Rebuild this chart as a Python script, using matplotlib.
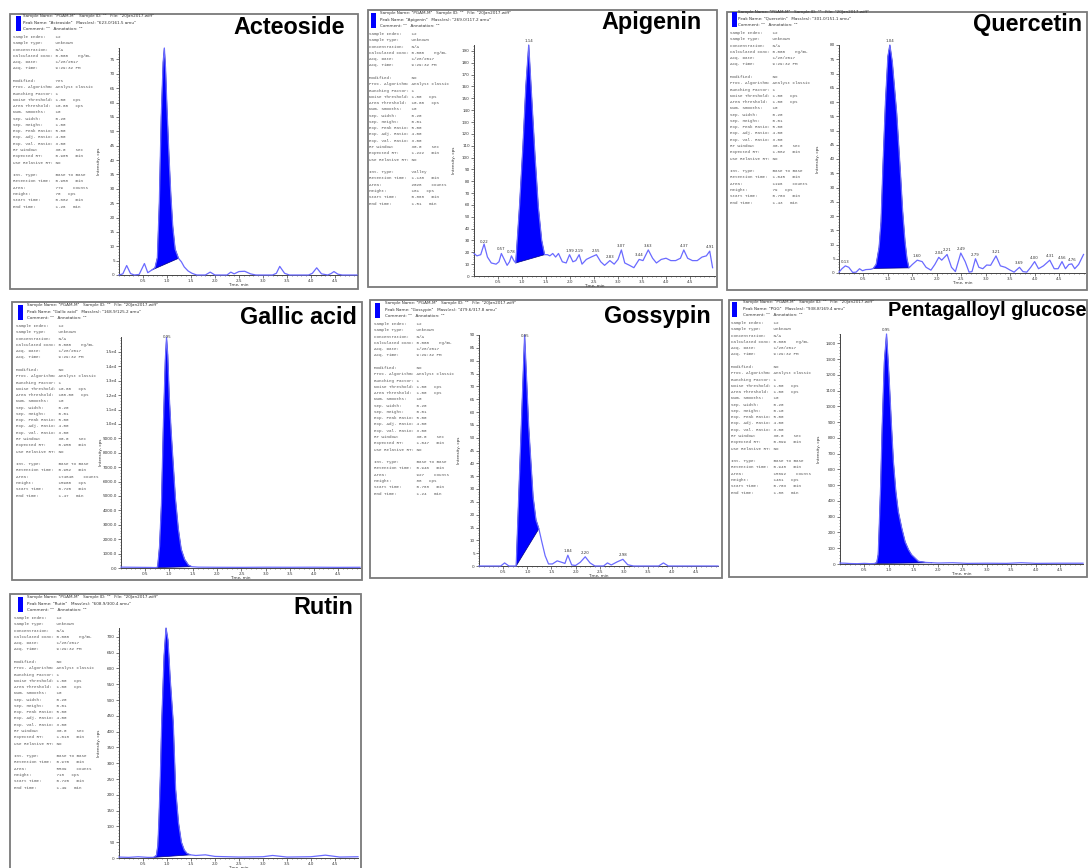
"""
Seven MRM chromatograms (Analyst-style printouts) for the PGAM-M extract.
"""
import matplotlib
matplotlib.use('Agg')
import matplotlib.pyplot as plt
import numpy as np
from matplotlib.patches import Rectangle
from matplotlib.ticker import MultipleLocator, FixedLocator

W, H = 1090, 868
fig = plt.figure(figsize=(W / 100, H / 100), dpi=100)

LINE = '#6a6aff'
FILL = '#0000ff'
GREY = '#555555'
MONO = 'Liberation Mono'

# ---- traces: [time (min), intensity (cps)] ----
acteoside = [[0.00, 0.0], [0.08, 0.4], [0.16, 3.3], [0.24, 0.5], [0.32, 0.0], [0.42, 0.2],
             [0.53, 4.0], [0.60, 0.8], [0.68, 1.7], [0.75, 2.5], [0.80, 6.0], [0.84, 25],
             [0.88, 55], [0.92, 74], [0.945, 79], [0.97, 72], [1.00, 58], [1.04, 42],
             [1.08, 28], [1.12, 17], [1.17, 9], [1.24, 5.8], [1.30, 4.6], [1.36, 2.8],
             [1.44, 1.4], [1.52, 0.6], [1.62, 0.0], [1.80, 0.0], [1.90, 1.0], [2.00, 0.0],
             [2.25, 0.0], [2.33, 1.0], [2.40, 0.4], [2.50, 1.2], [2.62, 1.3], [2.74, 0.4],
             [2.85, 0.0], [3.20, 0.0], [3.28, 0.6], [3.35, 3.0], [3.45, 0.6], [3.55, 0.0],
             [3.95, 0.0], [4.03, 0.6], [4.12, 2.5], [4.22, 0.4], [4.35, 0.0], [4.42, 0.5],
             [4.48, 1.2], [4.56, 0.3], [4.65, 0.0], [4.96, 0.0]]
apigenin = [[0.00, 19], [0.06, 17], [0.14, 18], [0.21, 27], [0.28, 16], [0.36, 11], [0.46, 10],
            [0.52, 12], [0.57, 19], [0.63, 14], [0.69, 9], [0.74, 12], [0.78, 17], [0.83, 13],
            [0.87, 11], [0.95, 60], [1.02, 110], [1.08, 160], [1.14, 195], [1.20, 152],
            [1.27, 102], [1.34, 58], [1.41, 30], [1.47, 18], [1.53, 18], [1.58, 17], [1.64, 19],
            [1.70, 16], [1.76, 19], [1.84, 12], [1.92, 11], [1.99, 18], [2.06, 12], [2.12, 13],
            [2.19, 18], [2.25, 10], [2.34, 14], [2.44, 16], [2.55, 18], [2.64, 12], [2.72, 9],
            [2.83, 13], [2.92, 10], [3.00, 14], [3.07, 22], [3.14, 11], [3.24, 9], [3.33, 7],
            [3.44, 14], [3.52, 13], [3.63, 22], [3.72, 15], [3.80, 11], [3.90, 14], [4.00, 15],
            [4.10, 13], [4.20, 13], [4.30, 15], [4.37, 22], [4.45, 15], [4.55, 13], [4.65, 13],
            [4.75, 16], [4.84, 17], [4.91, 21], [4.97, 7]]
quercetin = [[0.00, 0.3], [0.06, 1.5], [0.13, 2.5], [0.20, 2.0], [0.28, 0.2], [0.35, 0.3],
             [0.42, 1.5], [0.48, 0.8], [0.55, 1.2], [0.65, 1.3], [0.70, 1.6], [0.76, 3],
             [0.82, 9], [0.86, 18], [0.90, 38], [0.95, 60], [1.00, 76], [1.04, 80], [1.09, 74],
             [1.14, 64], [1.18, 56], [1.22, 45], [1.26, 34], [1.30, 22], [1.35, 11], [1.39, 5],
             [1.43, 1.8], [1.50, 3], [1.60, 4.5],
             [1.70, 4], [1.78, 2], [1.88, 1], [1.96, 3], [2.04, 5.5], [2.10, 4.5], [2.21, 6.5],
             [2.30, 2], [2.38, 0.5], [2.49, 7], [2.58, 4], [2.66, 0.3], [2.72, 0.5], [2.79, 5],
             [2.86, 2], [2.94, 1.5], [3.02, 2.8], [3.10, 2.7], [3.21, 6], [3.30, 2.5], [3.40, 2],
             [3.50, 1], [3.58, 0.3], [3.69, 2], [3.76, 0.5], [3.84, 0.3], [3.92, 2], [4.00, 4],
             [4.08, 1.5], [4.18, 2.5], [4.31, 4.5], [4.40, 1.5], [4.48, 1.5], [4.56, 4],
             [4.63, 1.5], [4.70, 3], [4.76, 3.2], [4.82, 1.5], [4.90, 3], [5.00, 6.5]]
gallic = [[0.00, 60], [0.30, 50], [0.60, 40], [0.72, 30], [0.76, 60], [0.80, 1500], [0.84, 4500],
          [0.88, 10000], [0.92, 14500], [0.945, 16000], [0.97, 14800], [1.00, 12000],
          [1.04, 9500], [1.08, 7400], [1.13, 4800], [1.19, 2700], [1.25, 1300], [1.32, 600],
          [1.40, 200], [1.47, 90], [1.60, 60], [2.0, 50], [2.5, 45], [3.0, 55], [3.5, 50],
          [4.0, 55], [4.5, 45], [4.96, 50]]
gossypin = [[0.00, 0], [0.45, 0], [0.53, 1.2], [0.62, 0], [0.77, 0], [0.945, 90], [1.03, 54],
            [1.12, 27], [1.18, 18], [1.24, 14.5], [1.30, 9.5], [1.37, 4], [1.44, 0.8],
            [1.52, 0.8], [1.62, 2], [1.72, 1.4], [1.78, 1], [1.84, 4.2], [1.92, 0.4], [2.00, 0.2],
            [2.10, 1.5], [2.20, 3.6], [2.30, 1.2], [2.40, 0], [2.58, 0], [2.66, 1.2], [2.74, 0.4],
            [2.86, 1.6], [2.98, 2.6], [3.08, 0.5], [3.20, 0], [3.72, 0], [3.82, 1.2], [3.92, 0],
            [4.95, 0]]
pgg = [[0.00, 6], [0.10, 5], [0.20, 3], [0.35, 2], [0.50, 4], [0.62, 2], [0.70, 3], [0.75, 8],
       [0.78, 60], [0.80, 228], [0.83, 500], [0.86, 860], [0.905, 1283], [0.95, 1460],
       [0.99, 1250], [1.02, 1072], [1.05, 880], [1.09, 650], [1.14, 460], [1.19, 333],
       [1.26, 228], [1.33, 140], [1.40, 90], [1.46, 59], [1.60, 17], [1.75, 10], [1.88, 8],
       [2.0, 6], [2.3, 8], [2.6, 4], [3.0, 5], [3.4, 4], [3.7, 8], [4.0, 4], [4.5, 5], [4.96, 5]]
rutin = [[0.00, 3], [0.20, 2], [0.40, 4], [0.60, 2], [0.72, 2], [0.78, 8], [0.81, 40],
         [0.83, 110], [0.86, 250], [0.89, 430], [0.94, 640], [0.98, 728], [1.02, 690],
         [1.07, 560], [1.13, 429], [1.18, 217], [1.24, 111], [1.30, 50], [1.36, 25], [1.42, 14],
         [1.49, 10], [1.6, 8], [1.8, 10], [2.0, 5], [2.5, 3], [3.0, 4], [3.2, 8], [3.5, 3],
         [4.0, 4], [4.3, 9], [4.6, 3], [4.98, 4]]

# integrated peak window (start, end) and labelled peak times
acteoside_win, acteoside_labels = (0.68, 1.24), []
apigenin_win, apigenin_labels = (0.87, 1.47), [0.22, 0.57, 0.78, 1.14, 1.99, 2.19, 2.55, 2.83,
                                              3.07, 3.44, 3.63, 4.37, 4.91]
quercetin_win, quercetin_labels = (0.70, 1.43), [0.13, 1.04, 1.60, 2.04, 2.21, 2.49, 2.79, 3.21,
                                                3.69, 4.00, 4.31, 4.56, 4.76]
gallic_win, gallic_labels = (0.72, 1.47), [0.95]
gossypin_win, gossypin_labels = (0.77, 1.24), [0.95, 1.84, 2.20, 2.98]
pgg_win, pgg_labels = (0.70, 1.88), [0.95]
rutin_win, rutin_labels = (0.72, 1.49), []

titles = ['Acteoside', 'Apigenin', 'Quercetin', 'Gallic acid', 'Gossypin',
          'Pentagalloyl glucose', 'Rutin']
peak_names = ['Acteoside', 'Apigenin', 'Quercetin', 'Gallic acid', 'Gossypin', 'PGG', 'Rutin']
masses = ['623.0/161.5', '269.0/117.2', '301.0/151.1', '168.9/125.2', '479.6/317.8',
          '938.8/169.4', '608.9/300.4']

# ---- printed peak table values ----
info_labels = ['Sample Index:', 'Sample Type:', 'Concentration:', 'Calculated Conc:', 'Acq. Date:',
               'Acq. Time:', '', 'Modified:', 'Proc. Algorithm:', 'Bunching Factor:',
               'Noise Threshold:', 'Area Threshold:', 'Num. Smooths:', 'Sep. Width:',
               'Sep. Height:', 'Exp. Peak Ratio:', 'Exp. Adj. Ratio:', 'Exp. Val. Ratio:',
               'RT Window:', 'Expected RT:', 'Use Relative RT:', '', 'Int. Type:',
               'Retention Time:', 'Area:', 'Height:', 'Start Time:', 'End Time:']
modified = ['Yes', 'No', 'No', 'No', 'No', 'No', 'No']
noise_thr = ['1.00', '1.00', '1.00', '10.00', '1.00', '1.00', '1.00']
area_thr = ['10.00', '10.00', '1.00', '100.00', '1.00', '1.00', '1.00']
sep_height = ['1.00', '0.01', '0.01', '0.01', '0.01', '0.10', '0.01']
expected_rt = ['0.965', '1.222', '1.082', '0.950', '1.047', '0.899', '1.018']
int_type = ['Base To Base', 'Valley', 'Base To Base', 'Base To Base', 'Base To Base',
            'Base To Base', 'Base To Base']
ret_time = ['0.958', '1.138', '1.045', '0.952', '0.946', '0.948', '0.970']
areas = ['779', '2028', '1196', '174848', '927', '15692', '5539']
heights = ['70', '181', '79', '15900', '88', '1461', '718']
start_time = ['0.682', '0.868', '0.703', '0.720', '0.768', '0.703', '0.720']
end_time = ['1.26', '1.51', '1.43', '1.47', '1.24', '1.88', '1.49']

traces = [acteoside, apigenin, quercetin, gallic, gossypin, pgg, rutin]
windows = [acteoside_win, apigenin_win, quercetin_win, gallic_win, gossypin_win, pgg_win, rutin_win]
peak_labels = [acteoside_labels, apigenin_labels, quercetin_labels, gallic_labels,
               gossypin_labels, pgg_labels, rutin_labels]

# ---- page layout in pixels ----
# frame (x0, y0, x1, y1); axes (x at t=0, x at xmax, y at 0, y at ymax)
frames = [(10, 14, 358, 289), (368, 10, 717, 287), (727, 12, 1087, 290), (12, 302, 362, 580),
          (370, 300, 722, 578), (729, 300, 1087, 577), (10, 594, 361, 872)]
axes_px = [(119, 357, 275, 48), (474, 715, 276, 45), (839, 1085, 273, 45), (121, 360, 568, 337),
           (479, 718, 566, 335), (840, 1083, 564, 334), (119, 358, 858, 628)]
xmax = [4.96, 5.02, 5.03, 4.96, 4.95, 4.96, 4.98]
ymax = [79, 195, 80, 16040, 90, 1460, 728]
ystep = [5, 10, 5, 1000, 5, 100, 50]
ytop_tick = [75, 190, 80, 15000, 90, 1400, 700]
title_pos = [(345, 27, 16.8), (702, 23, 16.8), (1082, 25, 16.8), (357, 318, 16.8),
             (711, 316, 16.8), (1087, 311, 14.4), (353, 607, 16.8)]
text_pos = [(13, 37, 15, 23), (369, 34, 370, 380), (730, 33, 731, 738), (16, 326, 17, 27),
            (374, 324, 374, 385), (731, 323, 731, 743), (14, 618, 17, 27)]


def fx(x):
    return x / W


def fy(y):
    return 1 - y / H


def gallic_fmt(v):
    if v < 9500:
        return '%.1f' % v
    return '%.1fe4' % (v / 1e4)


for k in range(7):
    x0, y0, x1, y1 = frames[k]
    fig.add_artist(Rectangle((fx(x0), fy(y1)), (x1 - x0) / W, (y1 - y0) / H,
                             transform=fig.transFigure, facecolor='white',
                             edgecolor='#7a7a7a', lw=1.3, zorder=0))

    # header block
    mx, my, bx, hx = text_pos[k]
    fig.add_artist(Rectangle((fx(bx + 1), fy(my - 6)), 5 / W, 15 / H,
                             transform=fig.transFigure, facecolor=FILL, edgecolor='none'))
    heads = ['Sample Name: "PGAM-M"   Sample ID: ""   File: "20Jan2017.wiff"',
             'Peak Name: "%s"   Mass(es): "%s amu"' % (peak_names[k], masses[k]),
             'Comment: ""   Annotation: ""']
    for j, s in enumerate(heads):
        fig.text(fx(hx), fy(my - 21 + 6.6 * j), s, fontsize=3.0, color='#333333',
                 va='center', ha='left')

    vals = ['12', 'Unknown', 'N/A', '0.000    ng/mL', '1/28/2017', '9:29:32 PM', '',
            modified[k], 'Analyst Classic', '1', noise_thr[k] + '   cps',
            area_thr[k] + '   cps', '10', '0.20', sep_height[k], '5.00', '4.00', '3.00',
            '30.0    sec', expected_rt[k] + '   min', 'No', '', int_type[k],
            ret_time[k] + '   min', areas[k] + '    counts', heights[k] + '   cps',
            start_time[k] + '   min', end_time[k] + '   min']
    for j, (lab, v) in enumerate(zip(info_labels, vals)):
        if lab:
            fig.text(fx(mx), fy(my + 6.28 * j), lab.ljust(17) + v, fontsize=3.1,
                     family=MONO, color=GREY, va='center', ha='left')

    tx, ty, ts = title_pos[k]
    fig.text(fx(tx), fy(ty), titles[k], fontsize=ts, fontweight='bold',
             family='Liberation Sans', ha='right', va='center', color='black')

    # chromatogram
    a0, a1, b0, b1 = axes_px[k]
    ax = fig.add_axes([fx(a0), fy(b0), (a1 - a0) / W, (b0 - b1) / H])
    ax.patch.set_alpha(0)
    data = np.array(traces[k], dtype=float)
    t, inten = data[:, 0], data[:, 1]
    s0, s1 = windows[k]
    sel = (t >= s0 - 1e-9) & (t <= s1 + 1e-9)
    ax.fill(t[sel], inten[sel], color=FILL, lw=0.5, ec='#000080', zorder=2)
    ax.plot(t, inten, color=LINE, lw=0.9, zorder=3, clip_on=False)
    for lt in peak_labels[k]:
        li = np.interp(lt, t, inten)
        ax.annotate('%.2f' % lt, (lt, li), xytext=(0, 1.5), textcoords='offset points',
                    ha='center', va='bottom', fontsize=2.8, color='#333333',
                    annotation_clip=False)

    ax.set_xlim(0, xmax[k])
    ax.set_ylim(0, ymax[k])
    for sp in ('top', 'right'):
        ax.spines[sp].set_visible(False)
    for sp in ('left', 'bottom'):
        ax.spines[sp].set_color('#444444')
        ax.spines[sp].set_linewidth(0.7)
    ax.xaxis.set_major_locator(FixedLocator(np.arange(0.5, 4.51, 0.5)))
    ax.xaxis.set_minor_locator(MultipleLocator(0.1))
    ax.yaxis.set_major_locator(FixedLocator(np.arange(0, ytop_tick[k] + 1, ystep[k])))
    ax.yaxis.set_minor_locator(MultipleLocator(ystep[k] / 5))
    if k == 3:
        ax.yaxis.set_major_formatter(plt.FuncFormatter(lambda v, p: gallic_fmt(v)))
    else:
        ax.yaxis.set_major_formatter(plt.FuncFormatter(lambda v, p: '%d' % v))
    ax.tick_params(which='major', length=2, width=0.5, labelsize=3.0, pad=1,
                   colors='#444444', labelcolor='#333333')
    ax.tick_params(which='minor', length=1, width=0.4, colors='#444444')
    ax.text(0.5, -0.035, 'Time, min', transform=ax.transAxes, fontsize=3.0,
            ha='center', va='top', color='#333333')
    ax.text(-0.085, 0.5, 'Intensity, cps', transform=ax.transAxes, fontsize=3.0,
            rotation=90, ha='center', va='center', color='#333333')

fig.savefig('out.png', dpi=100, facecolor='white')
